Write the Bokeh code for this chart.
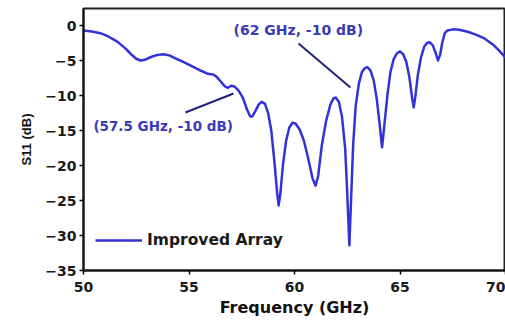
from bokeh.plotting import figure
from bokeh.models import Range1d, Legend, LegendItem, Label, ColumnDataSource
from bokeh.embed import file_html
from bokeh.resources import INLINE

# ---- data ----
freq_ghz = [50.0, 50.4, 50.8, 51.2, 51.6, 52.0, 52.25, 52.5, 52.7, 52.9,
            53.2, 53.5, 53.8, 54.1, 54.4, 54.8, 55.2, 55.6, 55.9, 56.15,
            56.3, 56.5, 56.7, 56.85, 57.0, 57.15, 57.35, 57.55, 57.75, 57.9,
            58.0, 58.15, 58.3, 58.45, 58.6, 58.75, 58.9, 59.05, 59.18, 59.25,
            59.33, 59.45, 59.6, 59.75, 59.9, 60.05, 60.25, 60.45, 60.65, 60.85,
            61.0, 61.12, 61.3, 61.5, 61.7, 61.85, 61.95, 62.1, 62.25, 62.4,
            62.5, 62.6, 62.68, 62.78, 62.9, 63.05, 63.2, 63.35, 63.45, 63.6,
            63.75, 63.9, 64.05, 64.15, 64.25, 64.4, 64.55, 64.7, 64.85, 65.0,
            65.15, 65.3, 65.45, 65.58, 65.65, 65.72, 65.85, 66.0, 66.15, 66.3,
            66.4, 66.55, 66.7, 66.8, 66.9, 67.0, 67.12, 67.25, 67.5, 67.8,
            68.2, 68.6, 69.0, 69.4, 69.7, 70.0]
s11_db = [-0.7, -0.85, -1.1, -1.6, -2.3, -3.3, -4.1, -4.75, -5.0, -4.9,
          -4.5, -4.2, -4.1, -4.3, -4.75, -5.3, -5.9, -6.5, -6.9, -7.0,
          -7.3, -8.0, -8.7, -8.9, -8.6, -8.7, -9.3, -10.3, -12.0, -13.0,
          -13.0, -12.2, -11.3, -10.9, -11.2, -12.5, -15.0, -19.5, -24.0, -25.7,
          -24.0, -20.0, -16.5, -14.6, -13.9, -14.0, -14.9, -16.5, -19.0, -21.8,
          -22.9, -21.5, -17.0, -13.6, -11.3, -10.4, -10.3, -10.9, -13.0, -17.5,
          -24.0, -31.4, -25.0, -17.0, -11.5, -8.3, -6.6, -6.05, -5.95, -6.4,
          -7.8, -10.5, -14.5, -17.4, -14.5, -10.0, -6.6, -4.8, -4.0, -3.7,
          -4.1, -5.2, -7.5, -10.5, -11.7, -10.3, -7.0, -4.5, -3.0, -2.45,
          -2.4, -2.8, -4.0, -5.0, -4.2, -2.5, -1.1, -0.7, -0.55, -0.6,
          -0.9, -1.3, -1.85, -2.7, -3.6, -4.6]
series_name = "Improved Array"
x_ticks = [50, 55, 60, 65, 70]
y_ticks = [0, -5, -10, -15, -20, -25, -30, -35]

ann_texts = ["(57.5 GHz, -10 dB)", "(62 GHz, -10 dB)"]
ann_text_x = [50.47, 57.11]
ann_text_y = [-14.3, -0.7]
ann_line_x0 = [54.83, 60.19]
ann_line_y0 = [-12.43, -2.57]
ann_line_x1 = [57.11, 62.65]
ann_line_y1 = [-9.71, -8.86]

LINE_COLOR = "#3232d6"
TEXT_COLOR = "#3a3ab8"
FONT = "DejaVu Sans"

p = figure(width=505, height=321, output_backend="svg", toolbar_location=None,
           x_range=Range1d(50, 70), y_range=Range1d(-35, 2.43),
           min_border_left=83, min_border_right=0, min_border_top=8,
           min_border_bottom=51)
p.xgrid.visible = False
p.ygrid.visible = False
p.outline_line_color = "#222222"
p.outline_line_width = 2
p.background_fill_color = "white"
p.border_fill_color = "white"

src = ColumnDataSource(dict(f=freq_ghz, s=s11_db))
r = p.line("f", "s", source=src, line_color=LINE_COLOR, line_width=2.5,
           line_join="round")

p.segment(x0=ann_line_x0, y0=ann_line_y0, x1=ann_line_x1, y1=ann_line_y1,
          line_color="#22227a", line_width=2)
for t, tx, ty, fs in zip(ann_texts, ann_text_x, ann_text_y, ["13.5px", "14px"]):
    p.add_layout(Label(x=tx, y=ty, text=t, text_font=FONT, text_font_style="bold",
                       text_font_size=fs, text_color=TEXT_COLOR,
                       text_baseline="middle", text_align="left"))

for ax in (p.xaxis[0], p.yaxis[0]):
    ax.axis_line_width = 2
    ax.axis_line_color = "#111111"
    ax.major_tick_out = 4
    ax.major_tick_in = 0
    ax.minor_tick_out = 2
    ax.minor_tick_in = 0
    ax.major_tick_line_width = 1.5
    ax.major_label_text_font = FONT
    ax.major_label_text_font_style = "bold"
    ax.major_label_text_font_size = "14px"
    ax.major_label_text_color = "#1a1a1a"
    ax.axis_label_text_font_style = "bold"
    ax.axis_label_text_color = "#111111"

p.xaxis.ticker = x_ticks
p.yaxis.ticker = y_ticks
p.xaxis[0].ticker.num_minor_ticks = 2
p.yaxis[0].ticker.num_minor_ticks = 2
p.xaxis.axis_label = "Frequency (GHz)"
p.xaxis.axis_label_text_font = FONT
p.xaxis.axis_label_text_font_size = "16px"
p.xaxis.axis_label_standoff = 3
p.xaxis.major_label_standoff = 7
p.yaxis.axis_label = "S11 (dB)"
p.yaxis.axis_label_text_font = "Liberation Sans"
p.yaxis.axis_label_text_font_size = "13px"
p.yaxis.axis_label_standoff = 8
p.yaxis.major_label_standoff = 3

legend = Legend(items=[LegendItem(label=series_name, renderers=[r])],
                location=(12, 20), glyph_width=47, glyph_height=20,
                label_standoff=5, padding=0, margin=0, spacing=0,
                border_line_color=None, background_fill_alpha=0,
                label_text_font=FONT, label_text_font_style="bold",
                label_text_font_size="15.5px", label_text_color="#1a1a1a")
p.add_layout(legend)

open("out.html", "w").write(file_html(p, INLINE))
